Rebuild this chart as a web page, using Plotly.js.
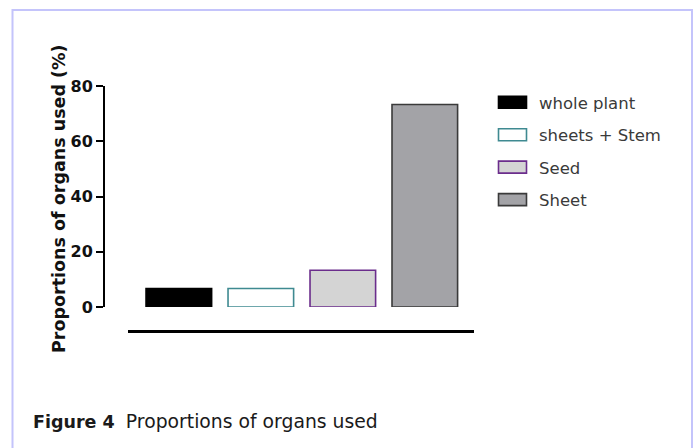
<!DOCTYPE html>
<html>
<head>
<meta charset="utf-8">
<script src="https://cdn.plot.ly/plotly-3.0.1.min.js"></script>
<style>html,body{margin:0;padding:0;background:#fff;}#chart{width:696px;height:448px;}</style>
</head>
<body>
<div id="chart"></div>
<script>
// Data
const categories = ["whole plant", "sheets + Stem", "Seed", "Sheet"];
const values = [6.7, 6.7, 13.3, 73.3];
const fillColors = ["#000000", "#ffffff", "#d4d4d4", "#a3a3a7"];
const lineColors = ["#000000", "#3f8a91", "#6b2d8c", "#3a3a3a"];
const yTickVals = [0, 20, 40, 60, 80];
const yTitle = "Proportions of organs used (%)";
const caption = "<b>Figure 4</b>\u00a0 <span style=\"font-size:18.8px\">Proportions of organs used</span>";

const W = 696, H = 448;
const traces = categories.map((c, i) => ({
  type: "bar",
  name: c,
  x: [c],
  y: [values[i]],
  width: 0.8,
  legendgroup: "g" + i,
  marker: {color: fillColors[i], line: {color: lineColors[i], width: 1.6}},
  hoverinfo: "skip"
}));

const layout = {
  width: W, height: H,
  margin: {l: 0, r: 0, t: 0, b: 0},
  paper_bgcolor: "#ffffff",
  plot_bgcolor: "rgba(0,0,0,0)",
  barmode: "overlay",
  font: {family: "DejaVu Sans, Arial, sans-serif", color: "#000"},
  xaxis: {
    domain: [128 / W, 474 / W],
    range: [-0.62, 3.6],
    anchor: "free",
    position: 1 - 331 / H,
    showline: true, linecolor: "#000", linewidth: 2.6,
    showticklabels: false, ticks: "", showgrid: false, zeroline: false,
    fixedrange: true
  },
  yaxis: {
    domain: [1 - 307 / H, 1 - 86 / H],
    range: [0, 80],
    anchor: "free",
    position: 104 / W,
    tickvals: yTickVals,
    ticktext: yTickVals.map(v => "<b>" + v + "</b>"),
    ticks: "outside", ticklen: 7, tickwidth: 2, tickcolor: "#000",
    showline: true, linecolor: "#000", linewidth: 2,
    showgrid: false, zeroline: false,
    tickfont: {family: "DejaVu Sans, Arial, sans-serif", size: 16, color: "#111"},
    fixedrange: true
  },
  showlegend: true,
  legend: {
    x: 486 / W, y: 1 - 85 / H, xanchor: "left", yanchor: "top",
    font: {family: "DejaVu Sans, Arial, sans-serif", size: 16.5, color: "#3a3a3a"},
    traceorder: "grouped",
    tracegroupgap: 8,
    itemwidth: 43,
    bgcolor: "rgba(0,0,0,0)"
  },
  shapes: [{
    type: "rect", xref: "paper", yref: "paper",
    x0: 12.5 / W, x1: 692 / W, y0: -0.05, y1: 1 - 10 / H,
    line: {color: "#c4c4fb", width: 2}, fillcolor: "rgba(0,0,0,0)", layer: "below"
  }],
  annotations: [{
    xref: "paper", yref: "paper", x: 59 / W, y: 1 - 199 / H,
    xanchor: "center", yanchor: "middle", showarrow: false, textangle: -90,
    text: "<b>" + yTitle + "</b>",
    font: {family: "DejaVu Sans, Arial, sans-serif", size: 17.5, color: "#111"}
  }, {
    xref: "paper", yref: "paper", x: 31 / W, y: 1 - 421 / H,
    xanchor: "left", yanchor: "middle", showarrow: false,
    text: caption,
    font: {family: "DejaVu Sans, Arial, sans-serif", size: 17.5, color: "#1a1a1a"}
  }]
};

Plotly.newPlot("chart", traces, layout, {displayModeBar: false, staticPlot: true}).then(() => {
  document.querySelectorAll("#chart .legendpoints path").forEach(p => {
    p.setAttribute("d", "M14,6H-14V-6H14Z");
  });
});
</script>
</body>
</html>
